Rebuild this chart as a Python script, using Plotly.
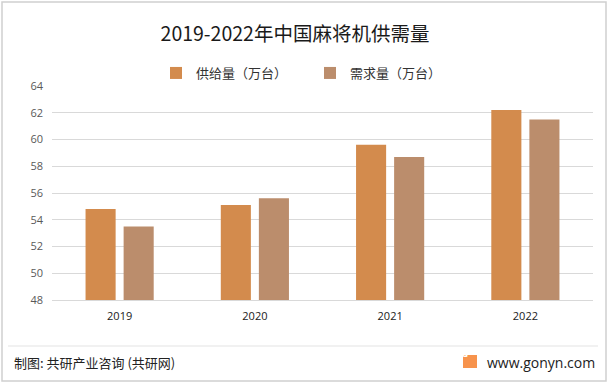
import plotly.graph_objects as go

# ---- data ----
years = ["2019", "2020", "2021", "2022"]
supply = [54.8, 55.1, 59.6, 62.2]
demand = [53.5, 55.6, 58.7, 61.5]
series_names = ["供给量（万台）", "需求量（万台）"]
y_ticks = [48, 50, 52, 54, 56, 58, 60, 62, 64]
title_text = "2019-2022年中国麻将机供需量"
source_text = "制图: 共研产业咨询 (共研网)"
site_text = "www.gonyn.com"

W, H = 612, 385
L, R, T, B = 52, 593, 86, 300  # plot area in px


def px(x):
    return (x - L) / (R - L)


def py(y):
    return (B - y) / (B - T)


FONT = "Noto Sans CJK SC, Open Sans, sans-serif"

fig = go.Figure()
fig.add_trace(go.Bar(x=years, y=supply, name=series_names[0],
                     marker=dict(color="#D38B4D", line=dict(width=0)),
                     legend="legend"))
fig.add_trace(go.Bar(x=years, y=demand, name=series_names[1],
                     marker=dict(color="#BB8D6C", line=dict(width=0)),
                     legend="legend2"))

fig.update_layout(
    width=W, height=H,
    margin=dict(l=L, r=W - R, t=T, b=H - B, pad=0),
    paper_bgcolor="white", plot_bgcolor="white",
    barmode="group", bargap=0.437, bargroupgap=0.21,
    font=dict(family=FONT, size=11, color="#595959"),
    title=dict(text=title_text, x=295 / W, xanchor="center", y=1 - 34 / H, yanchor="middle",
               font=dict(family=FONT, size=19.5, color="#1a1a1a")),
    legend=dict(orientation="h", x=px(156), y=py(73), xanchor="left", yanchor="middle",
                font=dict(family=FONT, size=13, color="#333333"), bgcolor="rgba(0,0,0,0)",
                itemwidth=30),
    legend2=dict(orientation="h", x=px(310), y=py(73), xanchor="left", yanchor="middle",
                 font=dict(family=FONT, size=13, color="#333333"), bgcolor="rgba(0,0,0,0)",
                 itemwidth=30),
    showlegend=True,
)

fig.update_yaxes(range=[48, 64], tickvals=y_ticks, showgrid=True, gridcolor="#D9D9D9",
                 gridwidth=1, zeroline=False, showline=False, ticks="",
                 tickfont=dict(family="Open Sans, sans-serif", size=11, color="#595959"),
                 ticklabelstandoff=8)
fig.update_xaxes(showgrid=False, showline=True, linecolor="#D9D9D9", linewidth=1, ticks="",
                 tickfont=dict(family="Open Sans, sans-serif", size=11, color="#1a1a1a"),
                 ticklabelstandoff=6)

# outer border
fig.add_shape(type="rect", xref="paper", yref="paper",
              x0=px(2), x1=px(606), y0=py(381), y1=py(2),
              line=dict(color="#D0D0D0", width=1.5), fillcolor="rgba(0,0,0,0)", layer="below")
# footer separator
fig.add_shape(type="line", xref="paper", yref="paper",
              x0=px(8), x1=px(598), y0=py(346), y1=py(346),
              line=dict(color="#E3E3E3", width=1))
# logo
fig.add_shape(type="rect", xref="paper", yref="paper",
              x0=px(463), x1=px(477), y0=py(368), y1=py(355),
              line=dict(width=0), fillcolor="#F7934C")
fig.add_annotation(text="<b>G</b>", x=px(470), y=py(361.5), xref="paper", yref="paper",
                   showarrow=False, font=dict(family="Open Sans", size=10, color="white"))

fig.add_annotation(text=source_text, x=px(12), y=py(362), xref="paper", yref="paper",
                   xanchor="left", yanchor="middle", showarrow=False,
                   font=dict(family=FONT, size=13, color="#222222"))
fig.add_annotation(text=site_text, x=px(597), y=py(362), xref="paper", yref="paper",
                   xanchor="right", yanchor="middle", showarrow=False,
                   font=dict(family="Open Sans, sans-serif", size=14, color="#222222"))

fig.write_html("out.html", config={"displayModeBar": False},
               post_script="document.body.style.margin='0';document.body.style.overflow='hidden';")
